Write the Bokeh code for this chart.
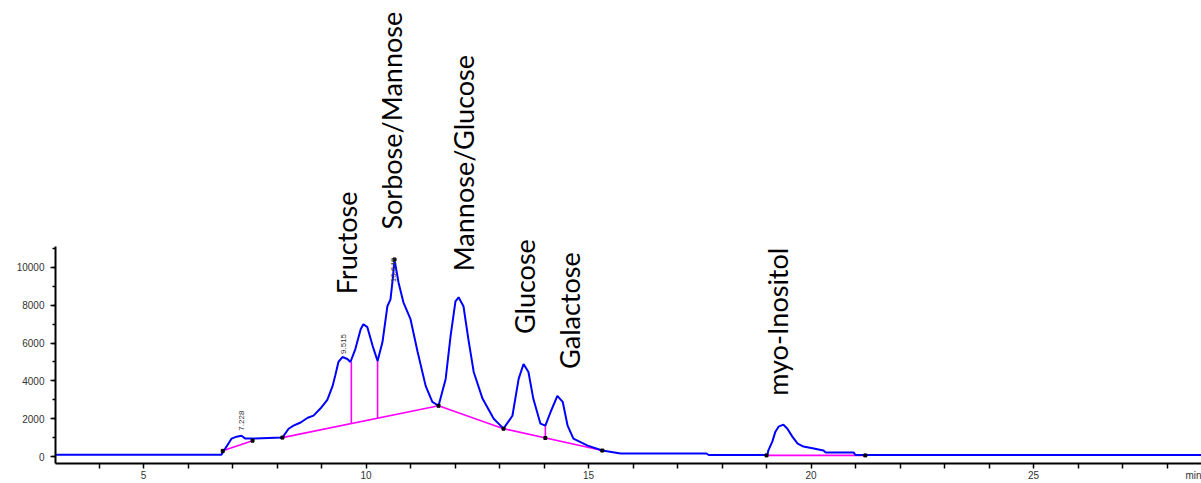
import math
from bokeh.plotting import figure
from bokeh.models import Label, SingleIntervalTicker, FixedTicker
from bokeh.embed import file_html
from bokeh.resources import INLINE

# ---- chromatogram trace (retention time in min, detector response) ----
trace_t = [3.0, 6.75, 6.98, 7.09, 7.20, 7.29, 7.50, 8.12, 8.26, 8.37, 8.53, 8.69, 8.82,
           8.98, 9.13, 9.25, 9.31, 9.38, 9.47, 9.58, 9.65, 9.76, 9.88, 9.94, 10.03,
           10.15, 10.26, 10.37, 10.48, 10.55, 10.60, 10.64, 10.73, 10.84, 11.00,
           11.16, 11.34, 11.49, 11.63, 11.79, 11.90, 12.01, 12.08, 12.19, 12.30,
           12.42, 12.62, 12.87, 13.09, 13.29, 13.43, 13.54, 13.65, 13.76, 13.92,
           14.03, 14.15, 14.30, 14.42, 14.53, 14.66, 14.98, 15.31, 15.72, 17.65,
           17.70, 19.02, 19.04, 19.13, 19.20, 19.27, 19.38, 19.47, 19.58, 19.70,
           19.83, 20.06, 20.28, 20.33, 20.96, 21.00, 29.0]
trace_y = [100, 100, 950, 1050, 1100, 950, 960, 1000, 1470, 1630, 1800, 2050, 2160,
           2550, 3000, 3735, 4300, 5000, 5260, 5155, 4997, 5681, 6733, 6996, 6838,
           5839, 5050, 6049, 7943, 8311, 9363, 10415, 9205, 8153, 7259,
           5523, 3735, 2893, 2683, 4103, 6365, 8206, 8416, 7943, 6207,
           4471, 3051, 1999, 1473, 2157, 4103, 4892, 4471, 3051, 1736,
           1631, 2367, 3209, 2893, 1631, 947, 579, 316, 160, 160,
           80, 80, 316, 789, 1315, 1578, 1683, 1473, 1052, 684,
           526, 421, 316, 210, 210, 80, 80]

# ---- integration baselines ----
base_segments_t = [[6.78, 7.45], [8.12, 11.63], [11.63, 13.09, 15.31], [19.0, 21.22]]
base_segments_y = [[300, 840], [1000, 2683], [2683, 1473, 316], [60, 60]]

# ---- peak drop lines ----
drop_t = [9.67, 10.26, 14.03]
drop_base = [1743, 2026, 983]
drop_top = [4997, 5050, 1631]

# ---- integration event marks ----
event_t = [6.78, 7.45, 8.12, 11.63, 13.09, 14.03, 15.31, 19.0, 21.22, 10.64]
event_y = [300, 840, 1000, 2683, 1473, 983, 316, 60, 60, 10415]

# ---- retention time annotations ----
rt_labels = ["7.228", "9.515", "10.648"]
rt_t = [7.20, 9.49, 10.62]
rt_y = [1368, 5421, 9210]

# ---- compound names ----
compounds = ["Fructose", "Sorbose/Mannose", "Mannose/Glucose", "Glucose", "Galactose", "myo-Inositol"]
compound_t = [9.56, 10.57, 12.19, 13.56, 14.57, 19.25]
compound_y = [8579, 12000, 9790, 6474, 4632, 3211]

# ---- x axis ticks and labels ----
x_major = [5, 10, 15, 20, 25, 28.62]
x_major_labels = ["5", "10", "15", "20", "25", "min"]
x_minor = list(range(4, 29))
y_ticks_major = 2000
y_axis_top = 11100

p = figure(width=1201, height=483, x_range=(3.022, 28.775), y_range=(-368, 24105),
           output_backend="svg", toolbar_location=None,
           min_border_left=55, min_border_right=0, min_border_top=0, min_border_bottom=18)
p.outline_line_color = None
p.grid.visible = False
p.background_fill_color = "white"

# baselines
p.multi_line(base_segments_t, base_segments_y, line_color="#FF00FF", line_width=1.6)
p.segment(x0=drop_t, y0=drop_base, x1=drop_t, y1=drop_top, line_color="#FF00FF", line_width=1.6)
# trace
p.line(trace_t, trace_y, line_color="#0000FF", line_width=2)
p.scatter(event_t, event_y, marker="square", size=3, color="black")

# axes
p.xaxis.ticker = FixedTicker(ticks=x_major, minor_ticks=x_minor)
p.xaxis.major_label_overrides = {t: s for t, s in zip(x_major, x_major_labels)}
p.yaxis.ticker = SingleIntervalTicker(interval=y_ticks_major, num_minor_ticks=2)
p.yaxis.bounds = (-368, y_axis_top)
for ax in (p.xaxis[0], p.yaxis[0]):
    ax.axis_line_color = "black"
    ax.axis_line_width = 2
    ax.major_tick_line_color = "black"
    ax.minor_tick_line_color = "black"
    ax.major_tick_line_width = 1.5
    ax.minor_tick_line_width = 1.5
    ax.major_tick_in = 0
    ax.minor_tick_in = 0
    ax.major_label_text_font = "Liberation Sans"
    ax.major_label_text_color = "#333333"
    ax.major_label_text_font_size = "10px"
p.xaxis.major_tick_out = 0
p.xaxis.minor_tick_out = 5
p.xaxis.major_label_standoff = 1
p.yaxis.major_tick_out = 5
p.yaxis.minor_tick_out = 3
p.yaxis.major_label_standoff = 6

# compound labels
for name, t, y in zip(compounds, compound_t, compound_y):
    p.add_layout(Label(x=t, y=y, text=name, angle=math.pi / 2, text_align="left",
                       text_baseline="middle", text_font="Lato", text_font_size="27px",
                       text_color="black"))

# retention time labels
for s, t, y in zip(rt_labels, rt_t, rt_y):
    p.add_layout(Label(x=t, y=y, text=s, angle=math.pi / 2, text_align="left",
                       text_baseline="middle", text_font="Liberation Sans",
                       text_font_size="8px", text_color="#333333"))

open("out.html", "w").write(file_html(p, INLINE))
